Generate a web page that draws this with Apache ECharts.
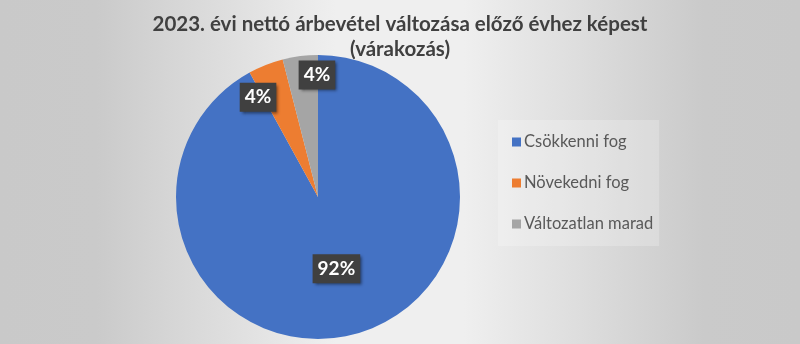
<!DOCTYPE html>
<html><head><meta charset="utf-8">
<script src="https://cdn.jsdelivr.net/npm/echarts@6/dist/echarts.min.js"></script>
<style>html,body{margin:0;padding:0;}#c{width:800px;height:344px;}</style>
</head><body><div id="c"></div>
<script>
const titleText = '2023. évi nettó árbevétel változása előző évhez képest\n(várakozás)';
const categories = ['Csökkenni fog', 'Növekedni fog', 'Változatlan marad'];
const values = [92, 4, 4];
const colors = ['#4472C4', '#ED7D31', '#A5A5A5'];

const chart = echarts.init(document.getElementById('c'));
const R = 142, CX = 318, CY = 197;
// label placement for the small slices (radius fraction, angle clockwise from 12 o'clock), like Excel's best fit
const smallLabelPlace = {1: [0.82, 329], 2: [0.86, 359.5]};
chart.setOption({
  backgroundColor: {
    type: 'linear', x: 0, y: 0, x2: 1, y2: 0,
    colorStops: [
      {offset: 0, color: '#c9c9c9'}, {offset: 0.12, color: '#cacaca'},
      {offset: 0.42, color: '#efefef'}, {offset: 0.58, color: '#efefef'},
      {offset: 0.88, color: '#cacaca'}, {offset: 1, color: '#c9c9c9'}
    ]
  },
  title: {
    text: titleText, left: 'center', top: 7,
    textStyle: {fontFamily: 'Lato', fontWeight: 'bold', fontSize: 20.5, color: '#404040', lineHeight: 25}
  },
  legend: {
    orient: 'vertical', left: 498, top: 120, itemGap: 21,
    itemWidth: 9, itemHeight: 9, icon: 'rect',
    padding: [12, 6, 12, 14],
    backgroundColor: 'rgba(255,255,255,0.22)',
    textStyle: {fontFamily: 'Lato', fontSize: 16.5, color: '#595959', padding: [0,0,0,-2], height: 20, lineHeight: 20},
    data: categories
  },
  series: [{
    type: 'pie', center: [CX, CY], radius: R, startAngle: 90, clockwise: true,
    animation: false,
    data: categories.map((c, i) => ({name: c, value: values[i], itemStyle: {color: colors[i]}})),
    label: {
      position: 'inside', formatter: '{d}%',
      fontFamily: 'Lato', fontWeight: 'bold', fontSize: 19, color: '#fff',
      backgroundColor: '#404040', padding: [6, 5, 4, 5],
      shadowColor: 'rgba(0,0,0,0.5)', shadowBlur: 3, shadowOffsetX: 2, shadowOffsetY: 2
    },
    labelLayout: function (p) {
      const pl = smallLabelPlace[p.dataIndex];
      if (!pl) return {};
      const a = pl[1] * Math.PI / 180;
      const tx = CX + Math.sin(a) * R * pl[0];
      const ty = CY - Math.cos(a) * R * pl[0];
      const cx = p.labelRect.x + p.labelRect.width / 2;
      const cy = p.labelRect.y + p.labelRect.height / 2;
      return {dx: tx - cx, dy: ty - cy};
    }
  }]
});
</script></body></html>
